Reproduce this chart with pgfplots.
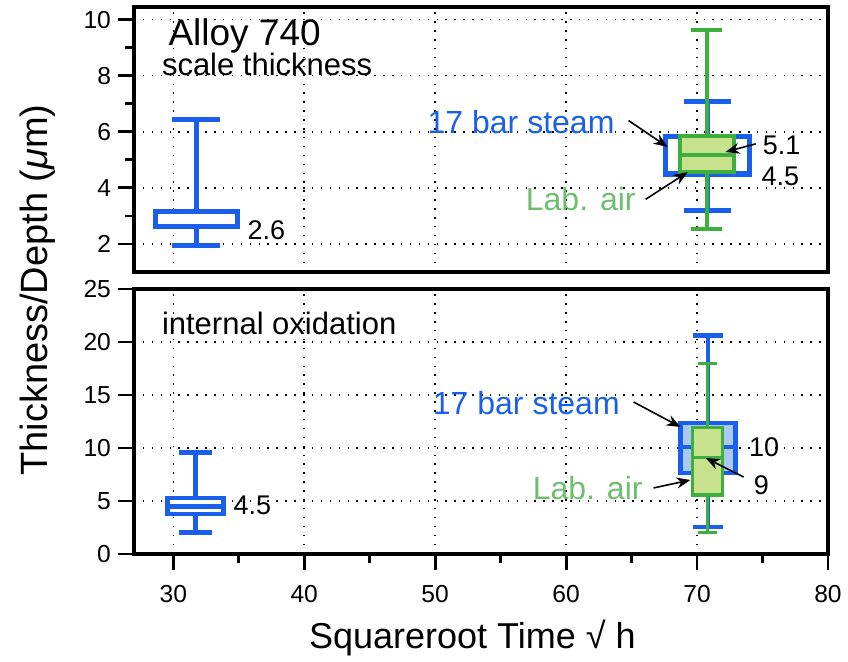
\documentclass[border=0pt]{standalone}
\usepackage{fontspec}
\setmainfont{Liberation Sans}
\usepackage{pgfplots}
\pgfplotsset{compat=1.18}
\usepgfplotslibrary{statistics}
\usetikzlibrary{arrows.meta}
\definecolor{bblue}{RGB}{25,95,235}
\definecolor{ggreen}{RGB}{60,175,60}
\definecolor{gfill}{RGB}{200,225,140}
\definecolor{gtext}{RGB}{110,190,110}
\definecolor{lblue}{RGB}{170,200,240}
\tikzset{arr/.style={-{Stealth[length=7pt,width=5.5pt]}, line width=0.8pt, black}}
\begin{document}
\begin{tikzpicture}
\useasboundingbox (-67pt,-54pt) rectangle (357pt,277pt);
\pgfplotsset{
  common/.style={
    scale only axis, width=347pt, height=132.5pt,
    xmin=27, xmax=80,
    clip=false,
    axis line style={line width=1.6pt},
    tick align=outside,
    xtick={30,40,...,80},
    minor xtick={35,45,...,75},
    xmajorgrids=true, ymajorgrids=true,
    major grid style={black, line width=0.75pt, dash pattern=on 0.75pt off 3.7pt},
    major tick length=8pt, minor tick length=4.5pt,
    tick style={black, line width=1.4pt},
    ytick pos=left, xtick pos=bottom,
    tick label style={font=\fontsize{12.3}{14}\selectfont},
    xticklabel style={yshift=-4pt},
    /pgf/number format/assume math mode=true,
    boxplot/draw direction=y,
  },
}
% ---------------- bottom panel: internal oxidation
\begin{axis}[common, at={(0,0)}, anchor=south west,
  ymin=0, ymax=25, ytick={0,5,...,25},
  xlabel={Squareroot Time √ h},
  xlabel style={font=\fontsize{18}{20}\selectfont, at={(axis description cs:0.4875,0)}, anchor=center, yshift=-42pt},
  ylabel={Thickness/Depth (\textit{μ}m)},
  ylabel style={font=\fontsize{19}{21}\selectfont, at={(axis description cs:-0.1383,0.996)}, anchor=center},
]
\addplot[bblue, line width=2.4pt, fill=white, boxplot prepared={draw position=31.7,
  lower whisker=2.0, lower quartile=3.77, median=4.5, upper quartile=5.28, upper whisker=9.6,
  box extend=4.28, whisker extend=2.45}] coordinates {};
\addplot[bblue, line width=2.2pt, fill=lblue, boxplot prepared={draw position=70.85,
  lower whisker=2.55, lower quartile=7.64, median=10.1, upper quartile=12.36, upper whisker=20.6,
  box extend=4.2, whisker extend=2.3}] coordinates {};
\addplot[ggreen, line width=1.6pt, fill=gfill, boxplot prepared={draw position=70.8,
  lower whisker=2.0, lower quartile=5.57, median=9.1, upper quartile=11.9, upper whisker=18.0,
  box extend=2.3, whisker extend=1.4}] coordinates {};
\node[anchor=base west, font=\fontsize{15.5}{17}\selectfont] at (axis cs:28.6,20.66) {internal oxidation};
\node[anchor=west, text=bblue, font=\fontsize{16}{18}\selectfont, inner sep=0pt] at (axis cs:49.8,14.25) {17 bar steam};
\node[anchor=west, text=gtext, font=\fontsize{16}{18}\selectfont, inner sep=0pt] at (axis cs:57.43,6.23) {Lab. air};
\node[anchor=west, font=\fontsize{13.5}{15}\selectfont, inner sep=0pt] at (axis cs:73.94,10.1) {10};
\node[anchor=west, font=\fontsize{13.5}{15}\selectfont, inner sep=0pt] at (axis cs:74.3,6.5) {9};
\node[anchor=west, font=\fontsize{13.5}{15}\selectfont, inner sep=0pt] at (axis cs:34.57,4.62) {4.5};
\draw[arr] (axis cs:65.15,14.34) -- (axis cs:68.74,11.98);
\draw[arr] (axis cs:66.68,6.23) -- (axis cs:69.5,6.98);
\draw[arr] (axis cs:73.56,7.26) -- (axis cs:70.66,9.06);
\end{axis}
% ---------------- top panel: scale thickness
\begin{axis}[common, at={(0,141pt)}, anchor=south west,
  ymin=1, ymax=10.45, ytick={2,4,...,10}, minor ytick={3,5,7,9},
  xmajorticks=false, minor xtick={},
]
\addplot[bblue, line width=2.5pt, fill=white, boxplot prepared={draw position=31.74,
  lower whisker=1.96, lower quartile=2.62, median=2.62, upper quartile=3.15, upper whisker=6.43,
  box extend=6.27, whisker extend=3.6}] coordinates {};
\addplot[bblue, line width=2.5pt, fill=white, boxplot prepared={draw position=70.81,
  lower whisker=3.19, lower quartile=4.49, median=4.5, upper quartile=5.82, upper whisker=7.08,
  box extend=6.42, whisker extend=3.6}] coordinates {};
\addplot[ggreen, line width=2pt, fill=gfill, boxplot prepared={draw position=70.75,
  lower whisker=2.54, lower quartile=4.56, median=5.17, upper quartile=5.86, upper whisker=9.64,
  box extend=4.13, whisker extend=2.37}] coordinates {};
\node[anchor=base west, font=\fontsize{18.5}{20}\selectfont] at (axis cs:29.1,9.06) {Alloy 740};
\node[anchor=base west, font=\fontsize{15.5}{17}\selectfont] at (axis cs:28.6,8.02) {scale thickness};
\node[anchor=west, text=bblue, font=\fontsize{16}{18}\selectfont, inner sep=0pt] at (axis cs:49.4,6.36) {17 bar steam};
\node[anchor=west, text=gtext, font=\fontsize{16}{18}\selectfont, inner sep=0pt] at (axis cs:56.9,3.59) {Lab. air};
\node[anchor=west, font=\fontsize{13.5}{15}\selectfont, inner sep=0pt] at (axis cs:75.0,5.50) {5.1};
\node[anchor=west, font=\fontsize{13.5}{15}\selectfont, inner sep=0pt] at (axis cs:74.9,4.41) {4.5};
\node[anchor=west, font=\fontsize{13.5}{15}\selectfont, inner sep=0pt] at (axis cs:35.64,2.5) {2.6};
\draw[arr] (axis cs:64.77,6.40) -- (axis cs:67.75,5.46);
\draw[arr] (axis cs:66.07,3.59) -- (axis cs:69.28,4.56);
\draw[arr] (axis cs:74.48,5.57) -- (axis cs:72.18,5.28);
\end{axis}
\end{tikzpicture}
\end{document}
